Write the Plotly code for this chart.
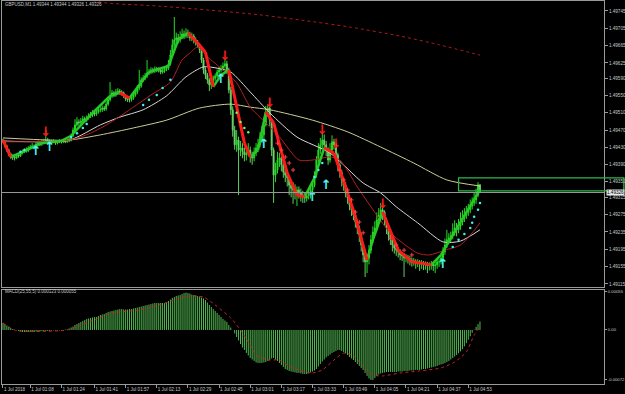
import plotly.graph_objects as go

symbol_title = "GBPUSD,M1 1.49344 1.49344 1.49326 1.49326"
macd_title = "MACD(25,55,5) 0.000123 0.000055"
bid_price = 1.49326
first_open = 1.49447

close = [1.49443,1.49433,1.49424,1.49415,1.49410,1.49408,1.49406,1.49413,1.49410,1.49417,
 1.49420,1.49424,1.49422,1.49429,1.49431,1.49433,1.49431,1.49438,1.49440,1.49438,
 1.49440,1.49445,1.49447,1.49443,1.49445,1.49443,1.49445,1.49440,1.49443,1.49445,
 1.49443,1.49445,1.49443,1.49445,1.49447,1.49457,1.49470,1.49482,1.49489,1.49487,
 1.49491,1.49496,1.49493,1.49498,1.49503,1.49505,1.49510,1.49507,1.49512,1.49517,
 1.49517,1.49521,1.49519,1.49530,1.49540,1.49549,1.49556,1.49551,1.49558,1.49560,
 1.49558,1.49556,1.49549,1.49542,1.49540,1.49540,1.49544,1.49551,1.49558,1.49567,
 1.49572,1.49586,1.49590,1.49595,1.49602,1.49604,1.49609,1.49607,1.49611,1.49609,
 1.49609,1.49604,1.49607,1.49611,1.49613,1.49623,1.49644,1.49667,1.49678,1.49683,
 1.49678,1.49685,1.49692,1.49687,1.49694,1.49690,1.49683,1.49687,1.49678,1.49673,
 1.49667,1.49655,1.49632,1.49609,1.49597,1.49586,1.49574,1.49581,1.49590,1.49595,
 1.49604,1.49609,1.49613,1.49618,1.49623,1.49609,1.49563,1.49517,1.49470,1.49436,
 1.49447,1.49424,1.49429,1.49420,1.49413,1.49417,1.49424,1.49413,1.49406,1.49420,
 1.49429,1.49436,1.49447,1.49459,1.49482,1.49512,1.49521,1.49493,1.49424,1.49366,
 1.49378,1.49401,1.49406,1.49390,1.49373,1.49366,1.49360,1.49343,1.49336,1.49332,
 1.49327,1.49332,1.49325,1.49320,1.49318,1.49313,1.49318,1.49320,1.49332,1.49343,
 1.49366,1.49401,1.49424,1.49436,1.49447,1.49436,1.49424,1.49401,1.49424,1.49443,
 1.49436,1.49413,1.49390,1.49373,1.49355,1.49343,1.49327,1.49313,1.49297,1.49286,
 1.49274,1.49258,1.49244,1.49228,1.49205,1.49182,1.49166,1.49175,1.49193,1.49217,
 1.49235,1.49244,1.49263,1.49274,1.49286,1.49281,1.49263,1.49244,1.49228,1.49217,
 1.49205,1.49198,1.49193,1.49189,1.49182,1.49180,1.49175,1.49177,1.49173,1.49170,
 1.49166,1.49168,1.49163,1.49166,1.49161,1.49163,1.49159,1.49161,1.49157,1.49159,
 1.49161,1.49157,1.49159,1.49166,1.49166,1.49175,1.49189,1.49205,1.49217,1.49221,
 1.49226,1.49235,1.49244,1.49240,1.49249,1.49258,1.49267,1.49274,1.49281,1.49286,
 1.49295,1.49302,1.49309,1.49320,1.49344,1.49326]

high = [1.49450,1.49445,1.49436,1.49427,1.49418,1.49414,1.49412,1.49416,1.49417,1.49421,
 1.49425,1.49428,1.49430,1.49433,1.49436,1.49440,1.49437,1.49443,1.49446,1.49445,
 1.49447,1.49450,1.49470,1.49452,1.49449,1.49448,1.49449,1.49447,1.49447,1.49449,
 1.49448,1.49449,1.49448,1.49449,1.49452,1.49462,1.49476,1.49495,1.49500,1.49495,
 1.49498,1.49503,1.49501,1.49504,1.49509,1.49512,1.49516,1.49514,1.49518,1.49523,
 1.49524,1.49527,1.49526,1.49536,1.49547,1.49581,1.49563,1.49560,1.49565,1.49567,
 1.49565,1.49562,1.49559,1.49552,1.49546,1.49546,1.49550,1.49557,1.49564,1.49574,
 1.49609,1.49592,1.49597,1.49602,1.49632,1.49611,1.49615,1.49614,1.49617,1.49616,
 1.49615,1.49612,1.49613,1.49617,1.49620,1.49632,1.49655,1.49680,1.49731,1.49695,
 1.49692,1.49698,1.49704,1.49700,1.49705,1.49702,1.49697,1.49695,1.49692,1.49684,
 1.49678,1.49671,1.49660,1.49637,1.49615,1.49602,1.49590,1.49588,1.49596,1.49601,
 1.49610,1.49616,1.49620,1.49626,1.49635,1.49630,1.49614,1.49570,1.49525,1.49480,
 1.49470,1.49455,1.49445,1.49440,1.49430,1.49430,1.49440,1.49432,1.49420,1.49430,
 1.49440,1.49450,1.49465,1.49480,1.49500,1.49526,1.49528,1.49524,1.49498,1.49430,
 1.49395,1.49420,1.49418,1.49410,1.49395,1.49380,1.49375,1.49365,1.49355,1.49350,
 1.49345,1.49340,1.49340,1.49335,1.49330,1.49325,1.49326,1.49330,1.49340,1.49352,
 1.49375,1.49410,1.49440,1.49452,1.49465,1.49460,1.49445,1.49430,1.49440,1.49458,
 1.49450,1.49440,1.49418,1.49395,1.49378,1.49360,1.49350,1.49332,1.49318,1.49302,
 1.49292,1.49280,1.49264,1.49250,1.49232,1.49210,1.49190,1.49185,1.49205,1.49228,
 1.49248,1.49260,1.49280,1.49290,1.49302,1.49302,1.49285,1.49268,1.49250,1.49235,
 1.49222,1.49210,1.49205,1.49200,1.49195,1.49188,1.49186,1.49184,1.49182,1.49180,
 1.49176,1.49175,1.49172,1.49172,1.49170,1.49170,1.49168,1.49167,1.49166,1.49165,
 1.49168,1.49166,1.49165,1.49172,1.49173,1.49185,1.49200,1.49220,1.49240,1.49232,
 1.49236,1.49255,1.49262,1.49256,1.49265,1.49280,1.49285,1.49290,1.49295,1.49300,
 1.49310,1.49315,1.49325,1.49335,1.49350,1.49344]

low = [1.49440,1.49430,1.49420,1.49410,1.49404,1.49401,1.49400,1.49403,1.49406,1.49408,
 1.49414,1.49417,1.49418,1.49419,1.49425,1.49427,1.49426,1.49428,1.49434,1.49433,
 1.49434,1.49437,1.49441,1.49439,1.49440,1.49439,1.49440,1.49436,1.49437,1.49440,
 1.49439,1.49440,1.49440,1.49441,1.49442,1.49444,1.49454,1.49466,1.49478,1.49480,
 1.49483,1.49487,1.49488,1.49489,1.49494,1.49498,1.49500,1.49502,1.49503,1.49508,
 1.49511,1.49512,1.49514,1.49515,1.49526,1.49536,1.49544,1.49546,1.49547,1.49553,
 1.49552,1.49550,1.49544,1.49537,1.49535,1.49534,1.49536,1.49540,1.49547,1.49553,
 1.49562,1.49568,1.49581,1.49585,1.49590,1.49597,1.49599,1.49601,1.49602,1.49604,
 1.49603,1.49599,1.49600,1.49602,1.49606,1.49609,1.49619,1.49640,1.49660,1.49670,
 1.49670,1.49672,1.49680,1.49680,1.49682,1.49683,1.49676,1.49675,1.49670,1.49665,
 1.49660,1.49648,1.49625,1.49600,1.49588,1.49577,1.49560,1.49565,1.49575,1.49584,
 1.49590,1.49598,1.49603,1.49607,1.49612,1.49600,1.49555,1.49505,1.49455,1.49425,
 1.49420,1.49320,1.49410,1.49405,1.49398,1.49400,1.49410,1.49395,1.49390,1.49398,
 1.49410,1.49420,1.49430,1.49440,1.49452,1.49478,1.49500,1.49480,1.49410,1.49302,
 1.49350,1.49370,1.49385,1.49375,1.49360,1.49350,1.49340,1.49320,1.49315,1.49300,
 1.49310,1.49295,1.49312,1.49305,1.49302,1.49302,1.49305,1.49310,1.49312,1.49325,
 1.49338,1.49360,1.49395,1.49415,1.49428,1.49425,1.49410,1.49390,1.49395,1.49418,
 1.49425,1.49400,1.49375,1.49360,1.49340,1.49330,1.49315,1.49300,1.49285,1.49272,
 1.49262,1.49245,1.49230,1.49212,1.49190,1.49165,1.49131,1.49140,1.49160,1.49185,
 1.49210,1.49228,1.49238,1.49255,1.49268,1.49262,1.49250,1.49230,1.49215,1.49205,
 1.49190,1.49185,1.49180,1.49176,1.49170,1.49168,1.49131,1.49165,1.49162,1.49158,
 1.49155,1.49157,1.49150,1.49154,1.49145,1.49150,1.49147,1.49148,1.49140,1.49146,
 1.49148,1.49145,1.49140,1.49150,1.49154,1.49160,1.49170,1.49182,1.49198,1.49208,
 1.49212,1.49218,1.49226,1.49225,1.49232,1.49240,1.49250,1.49258,1.49265,1.49272,
 1.49278,1.49287,1.49295,1.49300,1.49315,1.49326]

macd_hist = [0.000101,0.000086,0.000065,0.000043,0.000029,0.000014,0.0,-0.000007,-0.000014,-0.000022,
 -0.000029,-0.000029,-0.000029,-0.000029,-0.000029,-0.000029,-0.000029,-0.000022,-0.000022,-0.000022,
 -0.000014,-0.000014,-0.000014,-0.000014,-0.000014,-0.000007,-0.000007,-0.000007,-0.000007,-0.000007,
 0.0,0.0,0.000007,0.000007,0.000022,0.000036,0.000050,0.000072,0.000086,0.000101,
 0.000115,0.000130,0.000144,0.000158,0.000166,0.000173,0.000180,0.000187,0.000187,0.000202,
 0.000216,0.000223,0.000230,0.000245,0.000259,0.000266,0.000274,0.000281,0.000288,0.000295,
 0.000302,0.000302,0.000295,0.000295,0.000295,0.000302,0.000302,0.000310,0.000317,0.000324,
 0.000331,0.000338,0.000346,0.000353,0.000360,0.000367,0.000374,0.000382,0.000389,0.000389,
 0.000389,0.000389,0.000389,0.000389,0.000396,0.000418,0.000439,0.000461,0.000475,0.000490,
 0.000497,0.000504,0.000518,0.000533,0.000540,0.000533,0.000525,0.000511,0.000504,0.000497,
 0.000490,0.000482,0.000468,0.000454,0.000432,0.000396,0.000360,0.000331,0.000302,0.000274,
 0.000245,0.000216,0.000187,0.000158,0.000137,0.000115,0.000072,0.000036,0.0,-0.000050,
 -0.000101,-0.000151,-0.000202,-0.000252,-0.000288,-0.000331,-0.000367,-0.000403,-0.000425,-0.000446,
 -0.000468,-0.000475,-0.000475,-0.000475,-0.000468,-0.000461,-0.000446,-0.000432,-0.000410,-0.000403,
 -0.000425,-0.000446,-0.000475,-0.000504,-0.000533,-0.000562,-0.000576,-0.000590,-0.000598,-0.000605,
 -0.000612,-0.000619,-0.000619,-0.000626,-0.000634,-0.000634,-0.000634,-0.000626,-0.000612,-0.000598,
 -0.000583,-0.000562,-0.000526,-0.000490,-0.000454,-0.000425,-0.000396,-0.000374,-0.000353,-0.000331,
 -0.000317,-0.000302,-0.000288,-0.000288,-0.000302,-0.000317,-0.000338,-0.000360,-0.000389,-0.000410,
 -0.000432,-0.000461,-0.000490,-0.000518,-0.000547,-0.000576,-0.000619,-0.000662,-0.000698,-0.000720,
 -0.000720,-0.000691,-0.000662,-0.000641,-0.000626,-0.000619,-0.000612,-0.000605,-0.000605,-0.000605,
 -0.000605,-0.000605,-0.000605,-0.000598,-0.000598,-0.000598,-0.000590,-0.000590,-0.000590,-0.000583,
 -0.000583,-0.000583,-0.000576,-0.000576,-0.000576,-0.000569,-0.000562,-0.000562,-0.000554,-0.000547,
 -0.000540,-0.000533,-0.000526,-0.000518,-0.000504,-0.000497,-0.000490,-0.000475,-0.000461,-0.000446,
 -0.000425,-0.000403,-0.000382,-0.000360,-0.000335,-0.000308,-0.000275,-0.000235,-0.000190,-0.000140,
 -0.000090,-0.000040,0.000005,0.000045,0.000085,0.000123]

signal_bar = [0,6,14,33,40,48,56,70,80,88,96,103,109,117,122,127,130,136,142,147,153,159,164,170,175,180,185,190,195,204,214,225,232,238,242,245]
signal_value = [0.000101,0.0,-0.000022,0.0,0.000072,0.000158,0.000245,0.000288,0.000360,0.000432,0.000490,0.000475,0.000360,0.000173,0.0,-0.000216,-0.000360,-0.000432,-0.000432,-0.000518,-0.000590,-0.000619,-0.000576,-0.000432,-0.000331,-0.000374,-0.000518,-0.000648,-0.000662,-0.000619,-0.000590,-0.000547,-0.000461,-0.000317,-0.000072,0.000055]

# moving averages (bar index, price)
slow_ma_bar = [40,52,81,106,132,153,178,204,224,245]
slow_ma_price = [1.49775,1.49764,1.49756,1.49747,1.49736,1.49724,1.49708,1.49687,1.49667,1.49643]
khaki_bar = [0,24,34,50,67,84,101,117,127,137,159,177,194,211,228,245]
khaki_price = [1.49452,1.49447,1.49447,1.49459,1.49475,1.49493,1.49521,1.49530,1.49523,1.49517,1.49493,1.49466,1.49431,1.49394,1.49355,1.49341]
white_bar = [0,34,50,60,72,84,94,103,110,117,127,137,151,168,185,194,202,213,226,235,245]
white_price = [1.49445,1.49447,1.49482,1.49500,1.49517,1.49549,1.49593,1.49616,1.49613,1.49604,1.49558,1.49510,1.49454,1.49417,1.49348,1.49325,1.49293,1.49256,1.49212,1.49214,1.49240]
darkred_bar = [0,34,45,55,67,76,86,92,96,100,105,113,120,127,132,142,152,159,168,173,182,189,199,213,219,227,235,241,245]
darkred_price = [1.49443,1.49447,1.49463,1.49487,1.49523,1.49551,1.49581,1.49632,1.49648,1.49662,1.49639,1.49609,1.49579,1.49523,1.49500,1.49454,1.49401,1.49401,1.49408,1.49401,1.49339,1.49293,1.49233,1.49186,1.49182,1.49193,1.49205,1.49233,1.49256]
trend_bar = [0,4,10,20,30,35,45,55,60,65,75,85,90,95,100,104,108,112,116,124,127,131,135,139,146,151,155,160,165,170,176,181,187,190,195,203,210,220,225,235,245]
trend_price = [1.49447,1.49408,1.49420,1.49440,1.49445,1.49457,1.49505,1.49549,1.49556,1.49544,1.49604,1.49618,1.49678,1.49694,1.49671,1.49650,1.49570,1.49597,1.49609,1.49440,1.49408,1.49424,1.49512,1.49487,1.49371,1.49320,1.49316,1.49360,1.49429,1.49417,1.49339,1.49270,1.49170,1.49217,1.49281,1.49193,1.49166,1.49159,1.49182,1.49258,1.49332]

down_arrow_bar = [22,114,137,164,171,195]
down_arrow_price = [1.49463,1.49639,1.49530,1.49468,1.49436,1.49297]
up_arrow_bar = [17,24,112,134,159,166,226]
up_arrow_price = [1.49420,1.49429,1.49586,1.49436,1.49313,1.49341,1.49159]
cyan_dot_bar = [9,11,35,38,41,43,72,75,79,82,86,160,162,164,231,234,237,240,241,242,244,245]
cyan_dot_price = [1.49420,1.49424,1.49454,1.49463,1.49475,1.49484,1.49528,1.49540,1.49551,1.49567,1.49586,1.49362,1.49378,1.49394,1.49200,1.49217,1.49230,1.49244,1.49256,1.49270,1.49286,1.49302]
green_dot_bar = [120,122,124,126]
green_dot_price = [1.49510,1.49489,1.49475,1.49465]
red_cross_bar = [141,143,145,147,149,173,175,177,179,181,183,185,199,202,206,210]
red_cross_price = [1.49440,1.49424,1.49408,1.49394,1.49378,1.49378,1.49355,1.49332,1.49309,1.49281,1.49258,1.49233,1.49221,1.49205,1.49193,1.49182]

box_start_bar = 234
box_top = 1.49360
box_bottom = 1.49330

price_ticks = [1.49745,1.49705,1.49665,1.49625,1.49590,1.49550,1.49510,1.49470,1.49430,1.49390,1.49352,1.49315,1.49275,1.49235,1.49195,1.49155,1.49115]
macd_ticks = [0.00055, 0.0, -0.00072]
macd_tick_text = ["0.00055", "0.00", "-0.00072"]
time_tick_bars = [0,14,30,47,63,79,95,111,127,143,159,175,191,207,223,239]
time_tick_labels = ["1 Jul 2018","1 Jul 01:08","1 Jul 01:24","1 Jul 01:41","1 Jul 01:57","1 Jul 02:13",
                    "1 Jul 02:29","1 Jul 02:45","1 Jul 03:01","1 Jul 03:17","1 Jul 03:33","1 Jul 03:49",
                    "1 Jul 04:05","1 Jul 04:21","1 Jul 04:37","1 Jul 04:53"]

n = len(close)
assert len(high) == n and len(low) == n and len(macd_hist) == n, (len(high), len(low), len(macd_hist))
bar_index = list(range(n))
open_ = [first_open] + close[:-1]

X_LO, X_HI = -0.5, 308.7
FONT = "Liberation Sans"
TXT = "#c8c8c8"
FRAME = "#9a9a9a"

fig = go.Figure()
fig.add_trace(go.Candlestick(
    x=bar_index, open=open_, high=high, low=low, close=close,
    increasing=dict(line=dict(color="#22dd22", width=1), fillcolor="#22dd22"),
    decreasing=dict(line=dict(color="#5fd05f", width=1), fillcolor="#b8f0b8"),
    whiskerwidth=0, xaxis="x", yaxis="y", showlegend=False, hoverinfo="skip"))

def ma(xs, ys, color, width=1, dash="solid"):
    fig.add_trace(go.Scatter(x=xs, y=ys, mode="lines", line=dict(color=color, width=width, dash=dash, shape="spline", smoothing=0.7),
                             xaxis="x", yaxis="y", showlegend=False, hoverinfo="skip"))

ma(slow_ma_bar, slow_ma_price, "#b01818", 1, "dot")
ma(khaki_bar, khaki_price, "#cdcd96", 1)
ma(white_bar, white_price, "#d8d8d8", 1)
ma(darkred_bar, darkred_price, "#b02020", 1)

# thick trend line, red where falling, green where rising
rx, ry, gx, gy = [], [], [], []
for k in range(len(trend_bar) - 1):
    seg_x = [trend_bar[k], trend_bar[k + 1], None]
    seg_y = [trend_price[k], trend_price[k + 1], None]
    if trend_price[k + 1] < trend_price[k]:
        rx += seg_x; ry += seg_y
    else:
        gx += seg_x; gy += seg_y
fig.add_trace(go.Scatter(x=gx, y=gy, mode="lines", line=dict(color="#28c828", width=2.5), xaxis="x", yaxis="y", showlegend=False, hoverinfo="skip"))
fig.add_trace(go.Scatter(x=rx, y=ry, mode="lines", line=dict(color="#ff1a1a", width=3), xaxis="x", yaxis="y", showlegend=False, hoverinfo="skip"))

fig.add_trace(go.Scatter(x=cyan_dot_bar, y=cyan_dot_price, mode="markers", marker=dict(color="#40f0f0", size=2.5), xaxis="x", yaxis="y", showlegend=False, hoverinfo="skip"))
fig.add_trace(go.Scatter(x=green_dot_bar, y=green_dot_price, mode="markers", marker=dict(color="#66ff66", size=2.5), xaxis="x", yaxis="y", showlegend=False, hoverinfo="skip"))
fig.add_trace(go.Scatter(x=red_cross_bar, y=red_cross_price, mode="markers", marker=dict(color="#ff4040", size=3, symbol="cross-thin", line=dict(color="#ff4040", width=1)), xaxis="x", yaxis="y", showlegend=False, hoverinfo="skip"))

fig.add_trace(go.Scatter(x=down_arrow_bar, y=down_arrow_price, mode="text", text=["↓"] * len(down_arrow_bar),
                         textfont=dict(color="#ff1a1a", size=13, family="DejaVu Sans", weight="bold"), xaxis="x", yaxis="y", showlegend=False, hoverinfo="skip"))
fig.add_trace(go.Scatter(x=up_arrow_bar, y=up_arrow_price, mode="text", text=["↑"] * len(up_arrow_bar),
                         textfont=dict(color="#4ff0f0", size=13, family="DejaVu Sans", weight="bold"), xaxis="x", yaxis="y", showlegend=False, hoverinfo="skip"))

# MACD histogram: one thin vertical stroke per bar, from zero to the value
hx, hy = [], []
for i, v in zip(bar_index, macd_hist):
    hx += [i, i, None]
    hy += [0.0, v, None]
fig.add_trace(go.Scatter(x=hx, y=hy, mode="lines", line=dict(color="#52b852", width=1),
                         xaxis="x2", yaxis="y2", showlegend=False, hoverinfo="skip"))
fig.add_trace(go.Scatter(x=signal_bar, y=signal_value, mode="lines", line=dict(color="#d02020", width=1, dash="dot", shape="spline", smoothing=0.6),
                         xaxis="x2", yaxis="y2", showlegend=False, hoverinfo="skip"))

axis_common = dict(showgrid=False, zeroline=False, showline=True, linecolor=FRAME, linewidth=1, mirror=True, automargin=False)
fig.update_layout(
    width=625, height=394,
    margin=dict(l=2, r=21, t=1, b=10, pad=0, autoexpand=False),
    paper_bgcolor="black", plot_bgcolor="black",
    font=dict(family=FONT, size=4.6, color=TXT),
    showlegend=False,
    xaxis=dict(domain=[0, 1], range=[X_LO, X_HI], anchor="y", showticklabels=False, ticks="",
               rangeslider=dict(visible=False), **axis_common),
    yaxis=dict(domain=[0.2533, 1], range=[1.49108, 1.49768], side="right", anchor="x",
               tickvals=price_ticks, ticktext=[f"{v:.5f}" for v in price_ticks],
               ticks="outside", ticklen=3, tickcolor=FRAME, tickfont=dict(size=4.6, color=TXT, family=FONT), **axis_common),
    xaxis2=dict(domain=[0, 1], range=[X_LO, X_HI], anchor="y2", tickvals=time_tick_bars, ticktext=time_tick_labels,
                ticks="outside", ticklen=3, tickcolor=FRAME, ticklabelposition="outside right", tickangle=0,
                tickfont=dict(size=4.6, color=TXT, family=FONT), **axis_common),
    yaxis2=dict(domain=[0, 0.2454], range=[-0.000778, 0.000576], side="right", anchor="x2",
                tickvals=macd_ticks, ticktext=macd_tick_text,
                ticks="outside", ticklen=2, tickcolor=FRAME, tickfont=dict(size=4.2, color=TXT, family=FONT), **axis_common),
)

fig.add_shape(type="line", xref="x domain", x0=0, x1=1, yref="y", y0=bid_price, y1=bid_price,
              line=dict(color="#9a9a9a", width=1))
box_x0 = (box_start_bar - X_LO) / (X_HI - X_LO)
fig.add_shape(type="rect", xref="paper", x0=box_x0, x1=1.033, yref="y", y0=box_bottom, y1=box_top,
              line=dict(color="#2db84d", width=1.3), fillcolor="rgba(0,0,0,0)")
fig.add_annotation(xref="paper", yref="y", x=1.0, y=bid_price, xanchor="left", xshift=2, text=f"{bid_price:.5f}",
                   showarrow=False, font=dict(color="black", size=4.6, family=FONT), bgcolor="#e6e6e6", borderpad=0)
fig.add_annotation(xref="paper", yref="paper", x=0.0017, y=0.9904, xanchor="left", yanchor="middle", text=symbol_title,
                   showarrow=False, font=dict(color=TXT, size=4.5, family=FONT))
fig.add_annotation(xref="paper", yref="paper", x=0.0017, y=0.2407, xanchor="left", yanchor="middle", text=macd_title,
                   showarrow=False, font=dict(color=TXT, size=4.5, family=FONT))

fig.write_html("out.html")
